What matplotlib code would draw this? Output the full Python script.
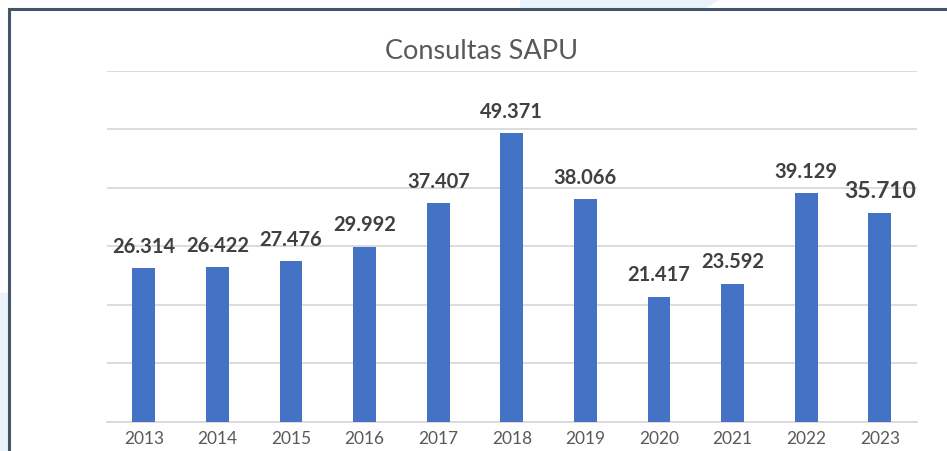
import matplotlib
matplotlib.use('Agg')
import matplotlib.pyplot as plt
from matplotlib.lines import Line2D
from matplotlib.patches import Polygon

years = ['2013', '2014', '2015', '2016', '2017', '2018', '2019', '2020', '2021', '2022', '2023']
consultas = [26314, 26422, 27476, 29992, 37407, 49371, 38066, 21417, 23592, 39129, 35710]
labels = ['26.314', '26.422', '27.476', '29.992', '37.407', '49.371', '38.066', '21.417', '23.592', '39.129', '35.710']

plt.rcParams['font.family'] = ['Lato', 'DejaVu Sans']

fig = plt.figure(figsize=(9.47, 4.52), dpi=100)

# faint background shapes outside the chart frame
fig.patches.append(Polygon([(0.55, 1.0), (0.76, 1.0), (0.74, 0.975), (0.55, 0.975)],
                           closed=True, transform=fig.transFigure, color='#eaf2fb', zorder=0))
fig.patches.append(Polygon([(0.0, 0.0), (0.0, 0.35), (0.0095, 0.35), (0.0095, 0.0)],
                           closed=True, transform=fig.transFigure, color='#eaf2fb', zorder=0))

# frame lines (top and left)
fig.add_artist(Line2D([0.0095, 1.0], [0.978, 0.978], transform=fig.transFigure, color='#44546a', lw=2.2))
fig.add_artist(Line2D([0.0095, 0.0095], [0.0, 0.978], transform=fig.transFigure, color='#44546a', lw=2.2))

ax = fig.add_axes([0.113, 0.0642, 0.855, 0.7765])
x = range(len(years))
ax.bar(x, consultas, width=0.31, color='#4472c4', zorder=3)

ax.set_ylim(0, 60000)
ax.set_xlim(-0.5, len(years) - 0.5)
ax.set_yticks(range(0, 60001, 10000))
ax.yaxis.grid(True, color='#d9d9d9', lw=1.3)
ax.set_yticklabels([])
ax.tick_params(axis='y', length=0)
ax.tick_params(axis='x', length=0, labelsize=12.5, colors='#595959', pad=5.5)
ax.set_xticks(list(x))
ax.set_xticklabels(years)
for s in ['top', 'right', 'left']:
    ax.spines[s].set_visible(False)
ax.spines['bottom'].set_color('#d9d9d9')
ax.spines['bottom'].set_linewidth(1.3)

for i, (v, lab) in enumerate(zip(consultas, labels)):
    size = 16.5 if i == len(years) - 1 else 14.5
    ax.annotate(lab, (i, v), xytext=(0, 9), textcoords='offset points',
                ha='center', va='bottom', fontsize=size, fontweight='bold', color='#404040')

fig.text(0.509, 0.886, 'Consultas SAPU', ha='center', va='center', fontsize=19.5, color='#595959')

fig.savefig('out.png', dpi=100)
